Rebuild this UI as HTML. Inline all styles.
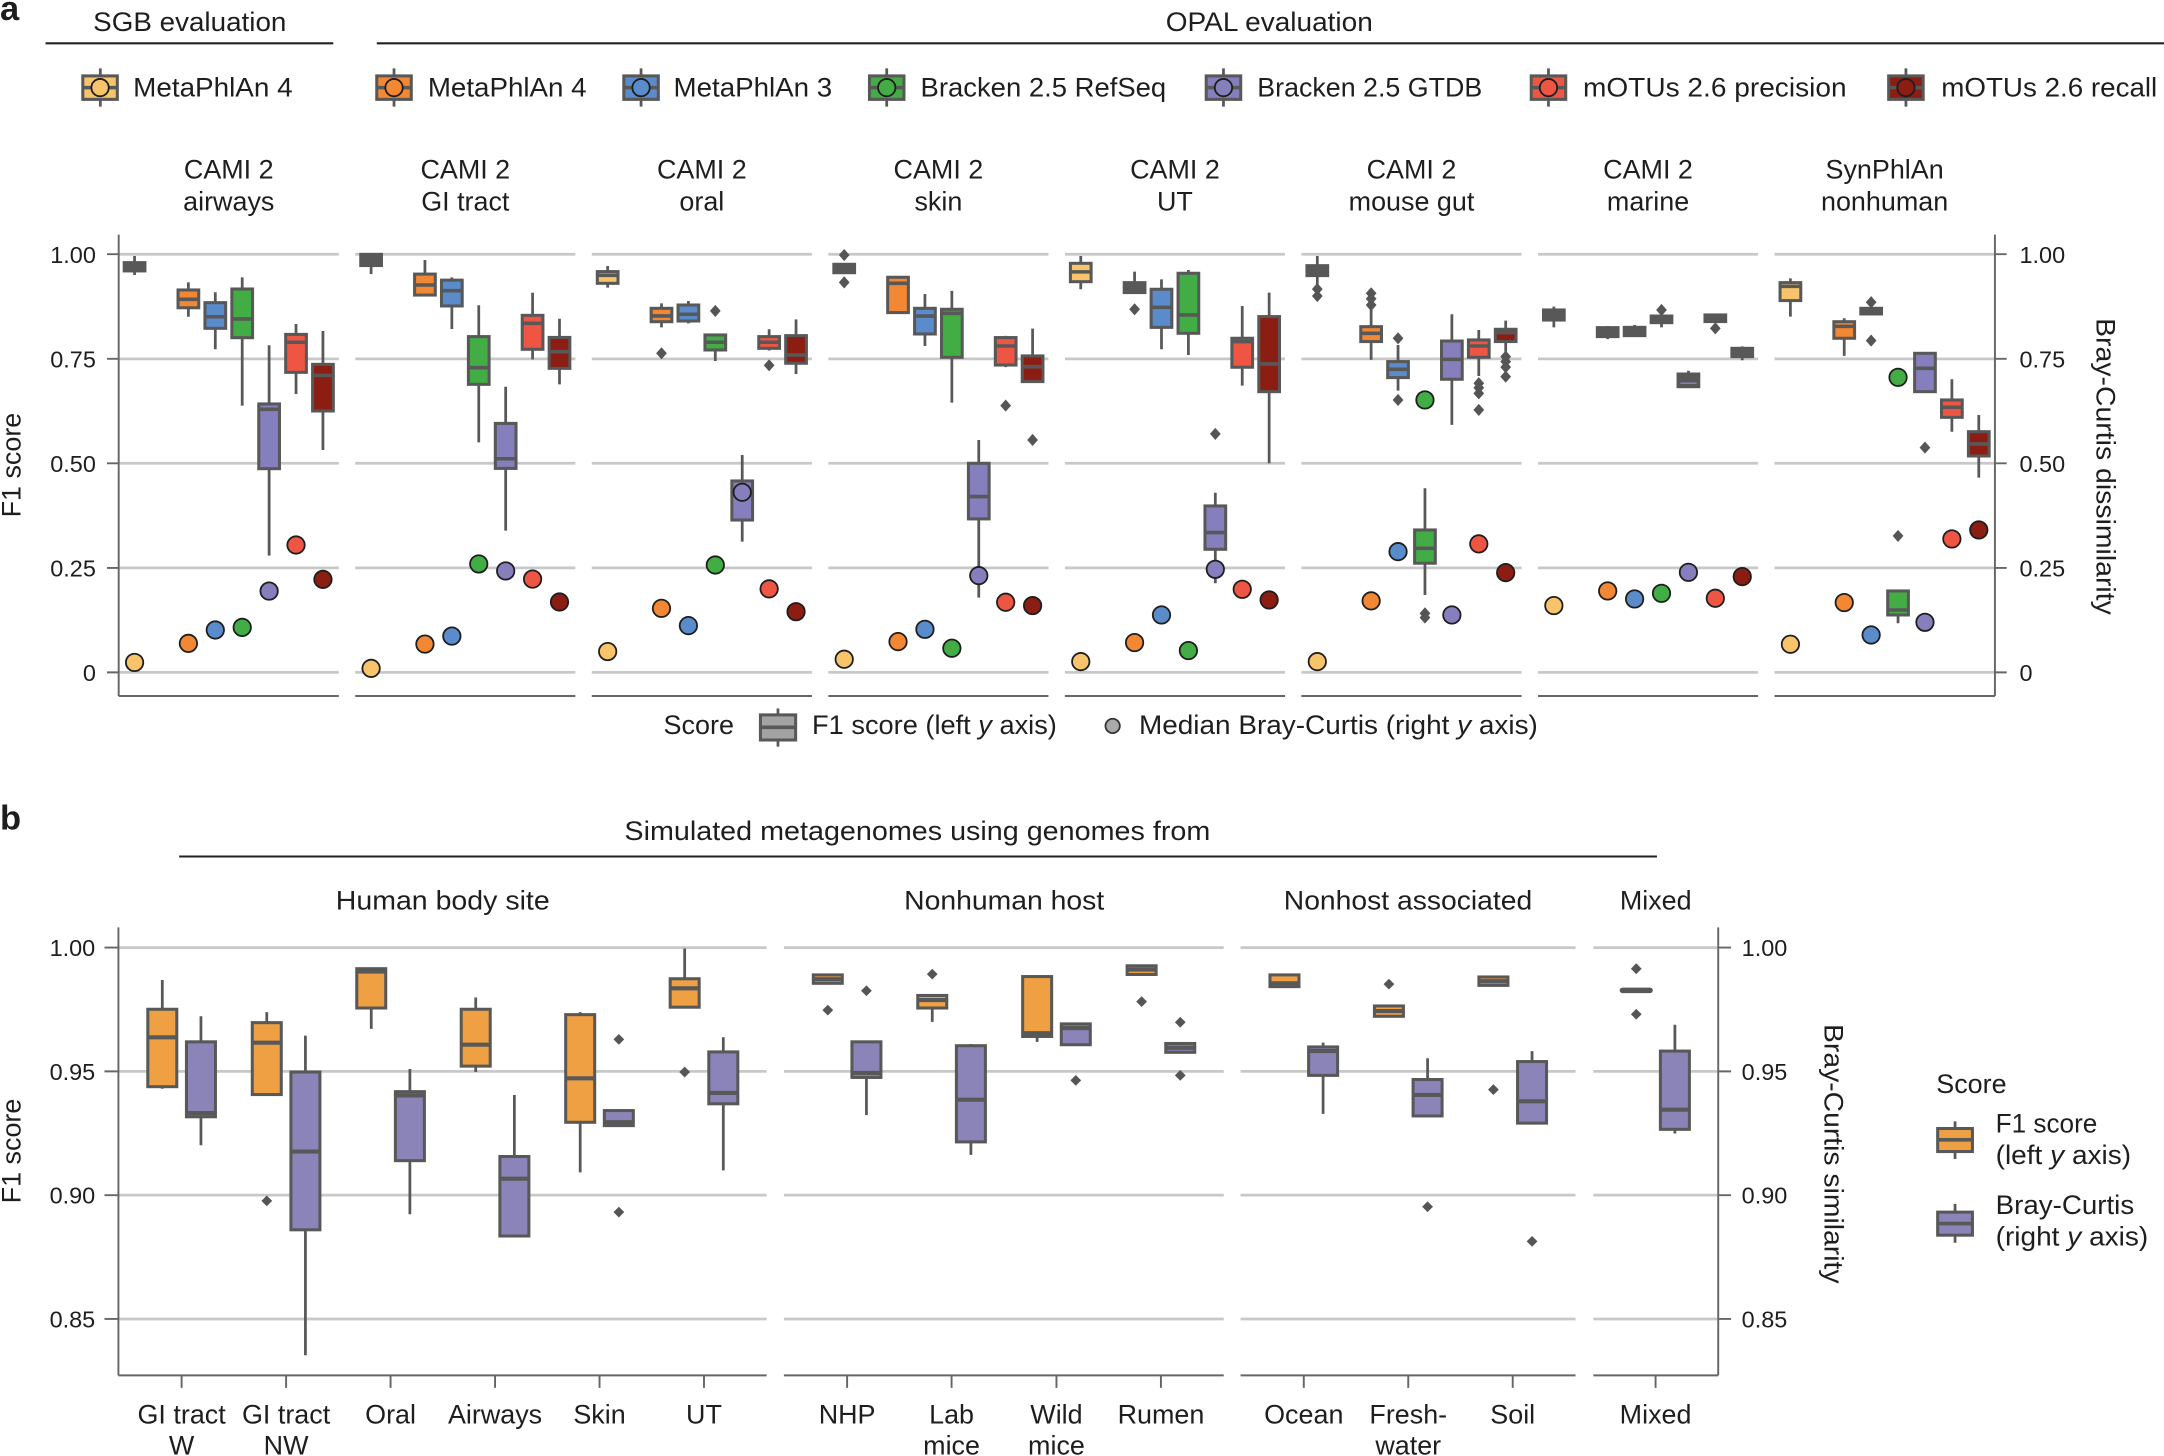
<!DOCTYPE html>
<html><head><meta charset="utf-8"><style>
html,body{margin:0;padding:0;background:#fff}
svg{display:block}
text{font-family:"Liberation Sans",sans-serif;fill:#1e1e1e}
.w{stroke:#585858;stroke-width:2;fill:none}
.s{stroke:#585858;stroke-width:2.2}
.m{stroke:#585858;stroke-width:2.6;fill:none}
.mb{stroke:#585858;stroke-width:3;fill:none}
.g{stroke:#c8c8c8;stroke-width:2;fill:none}
.ax{stroke:#666;stroke-width:1.4;fill:none}
.dt{stroke:#1e1e1e;stroke-width:1.3}
.t{font-size:19.5px}
.k{font-size:17px}
</style></head><body>
<svg width="2164" height="1456" viewBox="0 0 1568 1055" preserveAspectRatio="none" xmlns="http://www.w3.org/2000/svg">
<defs>
<path id="d" d="M0-4.4L3.9 0L0 4.4L-3.9 0Z" fill="#555"/>
<path id="e" d="M0-3.9L3.9 0L0 3.9L-3.9 0Z" fill="#555"/>
</defs>
<rect width="1568" height="1055" fill="#fff"/>

<!-- ===== Panel a header ===== -->
<text x="0" y="14.5" font-size="25" font-weight="bold">a</text>
<text class="t" x="137.5" y="22.5" text-anchor="middle" textLength="140" lengthAdjust="spacingAndGlyphs">SGB evaluation</text>
<text class="t" x="919.7" y="22.5" text-anchor="middle" textLength="150" lengthAdjust="spacingAndGlyphs">OPAL evaluation</text>
<path d="M33 31.4H241.5M273 31.4H1568" stroke="#222" stroke-width="1.5"/>

<!-- legend row -->
<g>
<path class="w" d="M72.7 49.5V77.3M285.5 49.5V77.3M464.5 49.5V77.3M642.5 49.5V77.3M886.5 49.5V77.3M1122 49.5V77.3M1381 49.5V77.3"/>
<rect class="s" x="60" y="55" width="25" height="17" fill="#f8c46b"/>
<rect class="s" x="273" y="55" width="25" height="17" fill="#f28834"/>
<rect class="s" x="452" y="55" width="25" height="17" fill="#5a8bca"/>
<rect class="s" x="630" y="55" width="25" height="17" fill="#41ad44"/>
<rect class="s" x="874" y="55" width="25" height="17" fill="#857fbd"/>
<rect class="s" x="1109.5" y="55" width="25" height="17" fill="#ee5643"/>
<rect class="s" x="1368.5" y="55" width="25" height="17" fill="#8b1d12"/>
<path class="m" d="M60 63.5h25M273 63.5h25M452 63.5h25M630 63.5h25M874 63.5h25M1109.5 63.5h25M1368.5 63.5h25"/>
<circle class="dt" cx="72.5" cy="63.5" r="6.3" fill="#f8c46b"/>
<circle class="dt" cx="285.5" cy="63.5" r="6.3" fill="#f28834"/>
<circle class="dt" cx="464.5" cy="63.5" r="6.3" fill="#5a8bca"/>
<circle class="dt" cx="642.5" cy="63.5" r="6.3" fill="#41ad44"/>
<circle class="dt" cx="886.5" cy="63.5" r="6.3" fill="#857fbd"/>
<circle class="dt" cx="1122" cy="63.5" r="6.3" fill="#ee5643"/>
<circle class="dt" cx="1381" cy="63.5" r="6.3" fill="#8b1d12"/>
<text class="t" x="96.5" y="70" textLength="115.5" lengthAdjust="spacingAndGlyphs">MetaPhlAn 4</text>
<text class="t" x="310" y="70" textLength="115" lengthAdjust="spacingAndGlyphs">MetaPhlAn 4</text>
<text class="t" x="488" y="70" textLength="115" lengthAdjust="spacingAndGlyphs">MetaPhlAn 3</text>
<text class="t" x="667" y="70" textLength="178" lengthAdjust="spacingAndGlyphs">Bracken 2.5 RefSeq</text>
<text class="t" x="911" y="70" textLength="163" lengthAdjust="spacingAndGlyphs">Bracken 2.5 GTDB</text>
<text class="t" x="1147" y="70" textLength="191" lengthAdjust="spacingAndGlyphs">mOTUs 2.6 precision</text>
<text class="t" x="1406.6" y="70" textLength="156.5" lengthAdjust="spacingAndGlyphs">mOTUs 2.6 recall</text>
</g>

<!-- facet titles a -->
<g class="t" text-anchor="middle">
<text class="t" x="165.75" y="129.5">CAMI 2</text><text class="t" x="165.75" y="152.5">airways</text>
<text class="t" x="337.15" y="129.5">CAMI 2</text><text class="t" x="337.15" y="152.5">GI tract</text>
<text class="t" x="508.55" y="129.5">CAMI 2</text><text class="t" x="508.55" y="152.5">oral</text>
<text class="t" x="679.95" y="129.5">CAMI 2</text><text class="t" x="679.95" y="152.5">skin</text>
<text class="t" x="851.35" y="129.5">CAMI 2</text><text class="t" x="851.35" y="152.5">UT</text>
<text class="t" x="1022.75" y="129.5">CAMI 2</text><text class="t" x="1022.75" y="152.5">mouse gut</text>
<text class="t" x="1194.15" y="129.5">CAMI 2</text><text class="t" x="1194.15" y="152.5">marine</text>
<text class="t" x="1365.55" y="129.5">SynPhlAn</text><text class="t" x="1365.55" y="152.5">nonhuman</text>
</g>

<!-- grid a -->
<path class="g" d="M86 184.2H245.5M257.4 184.2H416.9M428.8 184.2H588.3M600.2 184.2H759.7M771.6 184.2H931.1M943 184.2H1102.5M1114.4 184.2H1273.9M1285.8 184.2H1445.3
M86 260H245.5M257.4 260H416.9M428.8 260H588.3M600.2 260H759.7M771.6 260H931.1M943 260H1102.5M1114.4 260H1273.9M1285.8 260H1445.3
M86 335.7H245.5M257.4 335.7H416.9M428.8 335.7H588.3M600.2 335.7H759.7M771.6 335.7H931.1M943 335.7H1102.5M1114.4 335.7H1273.9M1285.8 335.7H1445.3
M86 411.5H245.5M257.4 411.5H416.9M428.8 411.5H588.3M600.2 411.5H759.7M771.6 411.5H931.1M943 411.5H1102.5M1114.4 411.5H1273.9M1285.8 411.5H1445.3
M86 487.2H245.5M257.4 487.2H416.9M428.8 487.2H588.3M600.2 487.2H759.7M771.6 487.2H931.1M943 487.2H1102.5M1114.4 487.2H1273.9M1285.8 487.2H1445.3"/>
<path class="ax" d="M86 504.3H245.5M257.4 504.3H416.9M428.8 504.3H588.3M600.2 504.3H759.7M771.6 504.3H931.1M943 504.3H1102.5M1114.4 504.3H1273.9M1285.8 504.3H1445.5
M86 170V504.3M1445.5 170V504.3
M77.5 184.2H86M77.5 260H86M77.5 335.7H86M77.5 411.5H86M77.5 487.2H86
M1445.5 184.2H1454M1445.5 260H1454M1445.5 335.7H1454M1445.5 411.5H1454M1445.5 487.2H1454"/>

<!-- tick labels a -->
<g class="k">
<text class="k" x="69.5" y="190.4" text-anchor="end">1.00</text>
<text class="k" x="69.5" y="266.2" text-anchor="end">0.75</text>
<text class="k" x="69.5" y="341.9" text-anchor="end">0.50</text>
<text class="k" x="69.5" y="417.7" text-anchor="end">0.25</text>
<text class="k" x="69.5" y="493.4" text-anchor="end">0</text>
<text class="k" x="1463.3" y="190.4">1.00</text>
<text class="k" x="1463.3" y="266.2">0.75</text>
<text class="k" x="1463.3" y="341.9">0.50</text>
<text class="k" x="1463.3" y="417.7">0.25</text>
<text class="k" x="1463.3" y="493.4">0</text>
</g>
<text class="t" transform="translate(15,337) rotate(-90)" text-anchor="middle">F1 score</text>
<text class="t" transform="translate(1519,338) rotate(90)" text-anchor="middle" textLength="215" lengthAdjust="spacingAndGlyphs">Bray-Curtis dissimilarity</text>

<!-- ===== boxes panel a ===== -->
<path class="w" d="
M97.5 185.5V190.3M97.5 196.3V199.3
M136.5 204.6V210.1M136.5 223V229.5
M156 211.8V219.3M156 237.9V253.1
M175.5 201V209.4M175.5 244.7V293.9
M195 250.2V292.7M195 339.6V402.6
M214.5 234.8V242.3M214.5 269.8V285.5
M234 239.8V264M234 297.8V326.1
M268.9 192.4V198.6
M307.9 188.4V198.6
M327.4 201V203M327.4 221.7V238.4
M346.9 221.2V243.9M346.9 278.5V320.5
M366.4 280.2V306.8M366.4 339.4V384.5
M385.9 212.1V228.5M385.9 253.1V260.4
M405.4 231V244.5M405.4 266.9V278.5
M440.3 192.7V196.8M440.3 205.3V208.4
M479.3 219.8V223.4M479.3 233.1V237.2
M498.8 218.1V221M498.8 232.6V234.3
M518.3 253.6V261.6
M537.8 329.7V348.5M537.8 376.8V392.5
M557.3 238.6V243.9M557.3 252.4V254
M576.8 231.4V243.2M576.8 263.2V271
M670.2 213V223.4M670.2 242V250.7
M689.7 210.8V224.1M689.7 258.9V291.7
M709.2 318.8V335.7M709.2 376V433
M728.7 243.4V244.6M728.7 264.5V266
M748.2 238.1V257.9M748.2 276.5V277.5
M783.1 185.5V190.8M783.1 204.1V209.6
M822.1 196.8V204.8
M841.6 202.4V209.6M841.6 237.2V253.1
M861.1 195.6V198M861.1 241.5V257.2
M880.6 357V366.6M880.6 398V422.6
M900.1 221.7V245.1M900.1 266.1V279.4
M919.6 212V229.4M919.6 283.8V335.7
M954.5 185.5V192.5M954.5 199.7V206.5
M993.5 221V236.7M993.5 247.5V260.8
M1013 250V262M1013 273.6V283
M1032.5 353.8V384M1032.5 408.1V431.1
M1052 227.7V247.1M1052 274.8V307.9
M1071.5 239.1V246.3M1071.5 258.9V272.4
M1091 232.3V238.6M1091 247.5V254.8
M1125.9 222.2V224.6M1125.9 231.9V237.2
M1164.9 236.2V237.4M1164.9 243.9V245.7
M1184.4 235.5V237.2M1184.4 243.2V244
M1203.9 233.8V237.2
M1223.4 268.6V271
M1262.4 251V252.4M1262.4 258.4V261
M1297.3 201.7V204.8M1297.3 217.8V229.4
M1336.3 230.6V233.1M1336.3 245.1V257.9
M1375.3 445.6V451.6
M1414.3 274.8V289.8M1414.3 302.4V312.8
M1433.8 300.7V312.8M1433.8 330.4V346.1"/>

<g class="s">
<rect x="90" y="190.3" width="15" height="6" fill="#585858"/>
<rect x="129" y="210.1" width="15" height="12.9" fill="#f28834"/>
<rect x="148.5" y="219.3" width="15" height="18.6" fill="#5a8bca"/>
<rect x="168" y="209.4" width="15" height="35.3" fill="#41ad44"/>
<rect x="187.5" y="292.7" width="15" height="46.9" fill="#857fbd"/>
<rect x="207" y="242.3" width="15" height="27.5" fill="#ee5643"/>
<rect x="226.5" y="264" width="15" height="33.8" fill="#8b1d12"/>

<rect x="261.4" y="184.3" width="15" height="8.1" fill="#585858"/>
<rect x="300.4" y="198.6" width="15" height="15.2" fill="#f28834"/>
<rect x="319.9" y="203" width="15" height="18.7" fill="#5a8bca"/>
<rect x="339.4" y="243.9" width="15" height="34.6" fill="#41ad44"/>
<rect x="358.9" y="306.8" width="15" height="32.6" fill="#857fbd"/>
<rect x="378.4" y="228.5" width="15" height="24.6" fill="#ee5643"/>
<rect x="397.9" y="244.5" width="15" height="22.4" fill="#8b1d12"/>

<rect x="432.8" y="196.8" width="15" height="8.5" fill="#f8c46b"/>
<rect x="471.8" y="223.4" width="15" height="9.7" fill="#f28834"/>
<rect x="491.3" y="221" width="15" height="11.6" fill="#5a8bca"/>
<rect x="510.8" y="242.7" width="15" height="10.9" fill="#41ad44"/>
<rect x="530.3" y="348.5" width="15" height="28.3" fill="#857fbd"/>
<rect x="549.8" y="243.9" width="15" height="8.5" fill="#ee5643"/>
<rect x="569.3" y="243.2" width="15" height="20" fill="#8b1d12"/>

<rect x="604.2" y="191.5" width="15" height="6.1" fill="#585858"/>
<rect x="643.2" y="200.9" width="15" height="25.6" fill="#f28834"/>
<rect x="662.7" y="223.4" width="15" height="18.6" fill="#5a8bca"/>
<rect x="682.2" y="224.1" width="15" height="34.8" fill="#41ad44"/>
<rect x="701.7" y="335.7" width="15" height="40.3" fill="#857fbd"/>
<rect x="721.2" y="244.6" width="15" height="19.9" fill="#ee5643"/>
<rect x="740.7" y="257.9" width="15" height="18.6" fill="#8b1d12"/>

<rect x="775.6" y="190.8" width="15" height="13.3" fill="#f8c46b"/>
<rect x="814.6" y="204.8" width="15" height="7.2" fill="#585858"/>
<rect x="834.1" y="209.6" width="15" height="27.6" fill="#5a8bca"/>
<rect x="853.6" y="198" width="15" height="43.5" fill="#41ad44"/>
<rect x="873.1" y="366.6" width="15" height="31.4" fill="#857fbd"/>
<rect x="892.6" y="245.1" width="15" height="21" fill="#ee5643"/>
<rect x="912.1" y="229.4" width="15" height="54.4" fill="#8b1d12"/>

<rect x="947" y="192.5" width="15" height="7.2" fill="#585858"/>
<rect x="986" y="236.7" width="15" height="10.8" fill="#f28834"/>
<rect x="1005.5" y="262" width="15" height="11.6" fill="#5a8bca"/>
<rect x="1025" y="384" width="15" height="24.1" fill="#41ad44"/>
<rect x="1044.5" y="247.1" width="15" height="27.7" fill="#857fbd"/>
<rect x="1064" y="246.3" width="15" height="12.6" fill="#ee5643"/>
<rect x="1083.5" y="238.6" width="15" height="8.9" fill="#8b1d12"/>

<rect x="1118.4" y="224.6" width="15" height="7.3" fill="#585858"/>
<rect x="1157.4" y="237.4" width="15" height="6.5" fill="#585858"/>
<rect x="1176.9" y="237.2" width="15" height="6" fill="#585858"/>
<rect x="1196.4" y="229" width="15" height="4.8" fill="#585858"/>
<rect x="1215.9" y="271" width="15" height="9.2" fill="#585858"/>
<rect x="1235.4" y="228.2" width="15" height="4.8" fill="#585858"/>
<rect x="1254.9" y="252.4" width="15" height="6" fill="#585858"/>

<rect x="1289.8" y="204.8" width="15" height="13" fill="#f8c46b"/>
<rect x="1328.8" y="233.1" width="15" height="12" fill="#f28834"/>
<rect x="1348.3" y="223.4" width="15" height="4.1" fill="#585858"/>
<rect x="1367.8" y="428.2" width="15" height="17.4" fill="#41ad44"/>
<rect x="1387.3" y="256" width="15" height="27.8" fill="#857fbd"/>
<rect x="1406.8" y="289.8" width="15" height="12.6" fill="#ee5643"/>
<rect x="1426.3" y="312.8" width="15" height="17.6" fill="#8b1d12"/>
</g>

<path class="m" d="
M90 193h15M129 216.9h15M148.5 229.5h15M168 231.1h15M187.5 296.6h15M207 248h15M226.5 272h15
M261.4 188.5h15M300.4 206.5h15M319.9 210.6h15M339.4 266.4h15M358.9 332.4h15M378.4 234.3h15M397.9 254.8h15
M432.8 199.5h15M471.8 228.9h15M491.3 227.7h15M510.8 248h15M530.3 356h15M549.8 248h15M569.3 257.2h15
M604.2 194.4h15M643.2 205.3h15M662.7 229h15M682.2 227h15M701.7 359.8h15M721.2 250.7h15M740.7 265.7h15
M775.6 197h15M814.6 208.4h15M834.1 222.7h15M853.6 228.2h15M873.1 385.9h15M892.6 247.5h15M912.1 263.7h15
M947 195.6h15M986 241.5h15M1005.5 267.6h15M1025 397.3h15M1044.5 260.4h15M1064 250.7h15M1083.5 241h15
M1289.8 207.5h15M1328.8 236.5h15M1348.3 225.1h15M1367.8 442h15M1387.3 266.9h15M1406.8 295.1h15M1426.3 321.7h15"/>
<path d="M1217.5 277.7h11.8" stroke="#857fbd" stroke-width="1"/>

<g>
<use href="#d" x="479.3" y="256"/><use href="#d" x="518.3" y="225.3"/><use href="#d" x="557.3" y="264.7"/>
<use href="#d" x="611.7" y="184.8"/><use href="#d" x="611.7" y="204.6"/><use href="#d" x="728.7" y="293.9"/><use href="#d" x="748.2" y="318.8"/>
<use href="#d" x="822.1" y="224.1"/><use href="#d" x="880.6" y="314.4"/>
<use href="#d" x="954.5" y="209.5"/><use href="#d" x="954.5" y="214.5"/>
<use href="#d" x="993.5" y="212.5"/><use href="#d" x="993.5" y="216.5"/><use href="#d" x="993.5" y="221"/>
<use href="#d" x="1013" y="245.1"/><use href="#d" x="1013" y="289.8"/>
<use href="#d" x="1032.5" y="444.4"/><use href="#d" x="1032.5" y="447.5"/>
<use href="#d" x="1071.5" y="277.7"/><use href="#d" x="1071.5" y="281"/><use href="#d" x="1071.5" y="285"/><use href="#d" x="1071.5" y="297"/>
<use href="#d" x="1091" y="258.4"/><use href="#d" x="1091" y="262"/><use href="#d" x="1091" y="266"/><use href="#d" x="1091" y="272.9"/>
<use href="#d" x="1203.9" y="224.6"/><use href="#d" x="1242.9" y="237.9"/>
<use href="#d" x="1355.8" y="219"/><use href="#d" x="1355.8" y="246.8"/><use href="#d" x="1375.3" y="388.3"/><use href="#d" x="1394.8" y="324.3"/>
</g>

<g class="dt">
<circle cx="97.5" cy="480" r="6.3" fill="#f8c46b"/><circle cx="136.5" cy="466.2" r="6.3" fill="#f28834"/><circle cx="156" cy="456.5" r="6.3" fill="#5a8bca"/><circle cx="175.5" cy="454.6" r="6.3" fill="#41ad44"/><circle cx="195" cy="428.3" r="6.3" fill="#857fbd"/><circle cx="214.5" cy="394.9" r="6.3" fill="#ee5643"/><circle cx="234" cy="419.8" r="6.3" fill="#8b1d12"/>
<circle cx="268.9" cy="484.3" r="6.3" fill="#f8c46b"/><circle cx="307.9" cy="466.7" r="6.3" fill="#f28834"/><circle cx="327.4" cy="460.9" r="6.3" fill="#5a8bca"/><circle cx="346.9" cy="408.6" r="6.3" fill="#41ad44"/><circle cx="366.4" cy="413.7" r="6.3" fill="#857fbd"/><circle cx="385.9" cy="419.6" r="6.3" fill="#ee5643"/><circle cx="405.4" cy="436.2" r="6.3" fill="#8b1d12"/>
<circle cx="440.3" cy="472.1" r="6.3" fill="#f8c46b"/><circle cx="479.3" cy="440.8" r="6.3" fill="#f28834"/><circle cx="498.8" cy="453.3" r="6.3" fill="#5a8bca"/><circle cx="518.3" cy="409.4" r="6.3" fill="#41ad44"/><circle cx="537.8" cy="356.7" r="6.3" fill="#857fbd"/><circle cx="557.3" cy="426.7" r="6.3" fill="#ee5643"/><circle cx="576.8" cy="443.2" r="6.3" fill="#8b1d12"/>
<circle cx="611.7" cy="477.7" r="6.3" fill="#f8c46b"/><circle cx="650.7" cy="464.9" r="6.3" fill="#f28834"/><circle cx="670.2" cy="456" r="6.3" fill="#5a8bca"/><circle cx="689.7" cy="469.7" r="6.3" fill="#41ad44"/><circle cx="709.2" cy="417.1" r="6.3" fill="#857fbd"/><circle cx="728.7" cy="436.4" r="6.3" fill="#ee5643"/><circle cx="748.2" cy="438.8" r="6.3" fill="#8b1d12"/>
<circle cx="783.1" cy="479.4" r="6.3" fill="#f8c46b"/><circle cx="822.1" cy="465.6" r="6.3" fill="#f28834"/><circle cx="841.6" cy="445.6" r="6.3" fill="#5a8bca"/><circle cx="861.1" cy="471.4" r="6.3" fill="#41ad44"/><circle cx="880.6" cy="412.5" r="6.3" fill="#857fbd"/><circle cx="900.1" cy="427" r="6.3" fill="#ee5643"/><circle cx="919.6" cy="434.7" r="6.3" fill="#8b1d12"/>
<circle cx="954.5" cy="479.4" r="6.3" fill="#f8c46b"/><circle cx="993.5" cy="435.4" r="6.3" fill="#f28834"/><circle cx="1013" cy="399.7" r="6.3" fill="#5a8bca"/><circle cx="1032.5" cy="289.8" r="6.3" fill="#41ad44"/><circle cx="1052" cy="445.6" r="6.3" fill="#857fbd"/><circle cx="1071.5" cy="394.1" r="6.3" fill="#ee5643"/><circle cx="1091" cy="414.9" r="6.3" fill="#8b1d12"/>
<circle cx="1125.9" cy="438.8" r="6.3" fill="#f8c46b"/><circle cx="1164.9" cy="428.2" r="6.3" fill="#f28834"/><circle cx="1184.4" cy="434" r="6.3" fill="#5a8bca"/><circle cx="1203.9" cy="429.9" r="6.3" fill="#41ad44"/><circle cx="1223.4" cy="414.7" r="6.3" fill="#857fbd"/><circle cx="1242.9" cy="433.5" r="6.3" fill="#ee5643"/><circle cx="1262.4" cy="417.8" r="6.3" fill="#8b1d12"/>
<circle cx="1297.3" cy="466.8" r="6.3" fill="#f8c46b"/><circle cx="1336.3" cy="436.6" r="6.3" fill="#f28834"/><circle cx="1355.8" cy="460.1" r="6.3" fill="#5a8bca"/><circle cx="1375.3" cy="273.4" r="6.3" fill="#41ad44"/><circle cx="1394.8" cy="450.9" r="6.3" fill="#857fbd"/><circle cx="1414.3" cy="390.5" r="6.3" fill="#ee5643"/><circle cx="1433.8" cy="384" r="6.3" fill="#8b1d12"/>
</g>

<!-- bottom legend a -->
<text class="t" x="480.8" y="532" textLength="51" lengthAdjust="spacingAndGlyphs">Score</text>
<path class="w" d="M563.7 513.3V541"/>
<rect class="s" x="551" y="518" width="25.5" height="18.2" fill="#a3a3a3"/>
<path class="m" d="M551 527h25.5"/>
<text class="t" x="588.4" y="532" textLength="177.4" lengthAdjust="spacingAndGlyphs">F1 score (left <tspan font-style="italic">y</tspan> axis)</text>
<circle cx="806.2" cy="526" r="5.2" fill="#a9a9a9" stroke="#333" stroke-width="1.3"/>
<text class="t" x="825.3" y="532" textLength="289" lengthAdjust="spacingAndGlyphs">Median Bray-Curtis (right <tspan font-style="italic">y</tspan> axis)</text>

<!-- ===== Panel b ===== -->
<text x="0" y="601" font-size="25" font-weight="bold">b</text>
<text class="t" x="664.7" y="608.5" text-anchor="middle" textLength="424.5" lengthAdjust="spacingAndGlyphs">Simulated metagenomes using genomes from</text>
<path d="M129.8 620.6H1200.6" stroke="#222" stroke-width="1.5"/>
<text class="t" x="320.8" y="659.1" text-anchor="middle" textLength="155" lengthAdjust="spacingAndGlyphs">Human body site</text>
<text class="t" x="727.6" y="659.1" text-anchor="middle" textLength="145" lengthAdjust="spacingAndGlyphs">Nonhuman host</text>
<text class="t" x="1020.2" y="659.1" text-anchor="middle" textLength="180" lengthAdjust="spacingAndGlyphs">Nonhost associated</text>
<text class="t" x="1199.7" y="659.1" text-anchor="middle">Mixed</text>

<path class="g" d="M85.8 686.6H555.5M568 686.6H886.7M898.9 686.6H1141.6M1154.5 686.6H1245
M85.8 776.3H555.5M568 776.3H886.7M898.9 776.3H1141.6M1154.5 776.3H1245
M85.8 866H555.5M568 866H886.7M898.9 866H1141.6M1154.5 866H1245
M85.8 955.7H555.5M568 955.7H886.7M898.9 955.7H1141.6M1154.5 955.7H1245"/>
<path class="ax" d="M85.8 996.6H555.5M568 996.6H886.7M898.9 996.6H1141.6M1154.5 996.6H1245
M85.8 672V996.6M1245 672V996.6
M75.7 686.6H85.8M75.7 776.3H85.8M75.7 866H85.8M75.7 955.7H85.8
M1245 686.6H1254.3M1245 776.3H1254.3M1245 866H1254.3M1245 955.7H1254.3
M131.6 996.6V1005.6M207.3 996.6V1005.6M283 996.6V1005.6M358.7 996.6V1005.6M434.4 996.6V1005.6M510.1 996.6V1005.6
M613.8 996.6V1005.6M689.5 996.6V1005.6M765.5 996.6V1005.6M841.2 996.6V1005.6
M944.7 996.6V1005.6M1020.4 996.6V1005.6M1096.1 996.6V1005.6M1199.6 996.6V1005.6"/>

<text class="k" x="69" y="692.8" text-anchor="end">1.00</text>
<text class="k" x="69" y="782.5" text-anchor="end">0.95</text>
<text class="k" x="69" y="872.2" text-anchor="end">0.90</text>
<text class="k" x="69" y="961.9" text-anchor="end">0.85</text>
<text class="k" x="1262" y="692.8">1.00</text>
<text class="k" x="1262" y="782.5">0.95</text>
<text class="k" x="1262" y="872.2">0.90</text>
<text class="k" x="1262" y="961.9">0.85</text>
<text class="t" transform="translate(15,834) rotate(-90)" text-anchor="middle">F1 score</text>
<text class="t" transform="translate(1322,836) rotate(90)" text-anchor="middle" textLength="188" lengthAdjust="spacingAndGlyphs">Bray-Curtis similarity</text>

<g text-anchor="middle">
<text class="t" x="131.6" y="1031.3">GI tract</text><text class="t" x="131.6" y="1054">W</text>
<text class="t" x="207.3" y="1031.3">GI tract</text><text class="t" x="207.3" y="1054">NW</text>
<text class="t" x="283" y="1031.3">Oral</text>
<text class="t" x="358.7" y="1031.3">Airways</text>
<text class="t" x="434.4" y="1031.3">Skin</text>
<text class="t" x="510.1" y="1031.3">UT</text>
<text class="t" x="613.8" y="1031.3">NHP</text>
<text class="t" x="689.5" y="1031.3">Lab</text><text class="t" x="689.5" y="1054">mice</text>
<text class="t" x="765.5" y="1031.3">Wild</text><text class="t" x="765.5" y="1054">mice</text>
<text class="t" x="841.2" y="1031.3">Rumen</text>
<text class="t" x="944.7" y="1031.3">Ocean</text>
<text class="t" x="1020.4" y="1031.3">Fresh-</text><text class="t" x="1020.4" y="1054">water</text>
<text class="t" x="1096.1" y="1031.3">Soil</text>
<text class="t" x="1199.6" y="1031.3">Mixed</text>
</g>

<path class="w" d="
M117.6 710.1V731.3M117.6 787.4V788.9
M145.6 736.4V754.9M145.6 809.2V829.8
M193.3 733.4V741
M221.3 750.4V776.8M221.3 891.1V982
M269 730.4V745.5
M297 774.6V791M297 841V879.8
M344.7 722.8V731.3M344.7 772.5V776.8
M372.7 793.4V838
M420.4 733.4V735.2M420.4 813.2V849.5
M496.1 687.3V709.2
M524.1 751.6V762.2M524.1 799.8V848
M627.8 780.7V808
M675.5 730.4V740.4
M703.5 756.5V757.7M703.5 827.4V836.8
M751.5 751V754.9
M779.5 741V741.9
M958.7 755.5V758.6M958.7 779.2V807.1
M1034.4 766.8V782.2
M1110.1 761.6V769.2
M1213.6 742.5V761.6M1213.6 818.3V821.3"/>
<g class="s">
<rect x="107.1" y="731.3" width="21" height="56.1" fill="#eea043"/>
<rect x="135.1" y="754.9" width="21" height="54.3" fill="#8a84b9"/>
<rect x="182.8" y="741" width="21" height="52.1" fill="#eea043"/>
<rect x="210.8" y="776.8" width="21" height="114.3" fill="#8a84b9"/>
<rect x="258.5" y="701.9" width="21" height="28.5" fill="#eea043"/>
<rect x="286.5" y="791" width="21" height="50" fill="#8a84b9"/>
<rect x="334.2" y="731.3" width="21" height="41.2" fill="#eea043"/>
<rect x="362.2" y="838" width="21" height="57.6" fill="#8a84b9"/>
<rect x="409.9" y="735.2" width="21" height="78" fill="#eea043"/>
<rect x="437.9" y="804.7" width="21" height="10.9" fill="#8a84b9"/>
<rect x="485.6" y="709.2" width="21" height="20.6" fill="#eea043"/>
<rect x="513.6" y="762.2" width="21" height="37.6" fill="#8a84b9"/>
<rect x="589.3" y="706.4" width="21" height="6.1" fill="#eea043"/>
<rect x="617.3" y="754.9" width="21" height="25.8" fill="#8a84b9"/>
<rect x="665" y="721.3" width="21" height="9.1" fill="#eea043"/>
<rect x="693" y="757.7" width="21" height="69.7" fill="#8a84b9"/>
<rect x="741" y="707.6" width="21" height="43.4" fill="#eea043"/>
<rect x="769" y="741.9" width="21" height="15.1" fill="#8a84b9"/>
<rect x="816.7" y="699.8" width="21" height="6.3" fill="#eea043"/>
<rect x="844.7" y="756.1" width="21" height="6.4" fill="#8a84b9"/>
<rect x="920.2" y="706.4" width="21" height="8.5" fill="#eea043"/>
<rect x="948.2" y="758.6" width="21" height="20.6" fill="#8a84b9"/>
<rect x="995.9" y="728.9" width="21" height="7.5" fill="#eea043"/>
<rect x="1023.9" y="782.2" width="21" height="26.4" fill="#8a84b9"/>
<rect x="1071.6" y="707.9" width="21" height="6.1" fill="#eea043"/>
<rect x="1099.6" y="769.2" width="21" height="44.6" fill="#8a84b9"/>
<rect x="1203.1" y="761.6" width="21" height="56.7" fill="#8a84b9"/>
</g>
<path class="mb" d="
M107.1 751.6h21M135.1 806.5h21M182.8 755.5h21M210.8 834.4h21M258.5 704h21M286.5 793.7h21
M334.2 757h21M362.2 854.1h21M409.9 781.3h21M437.9 813.1h21M485.6 716.1h21M513.6 791.9h21
M589.3 709.5h21M617.3 777.4h21M665 724.6h21M693 796.8h21M741 748.6h21M769 744.9h21
M816.7 702.5h21M844.7 759.2h21M920.2 712.5h21M948.2 761.6h21M995.9 732.6h21M1023.9 793.4h21
M1071.6 711h21M1099.6 798h21M1203.1 804.1h21"/>
<path d="M1175.6 717.6h20" stroke="#585858" stroke-width="4" stroke-linecap="round"/>
<g>
<use href="#e" x="193.3" y="870.1"/><use href="#e" x="448.4" y="753.1"/><use href="#e" x="448.4" y="878.3"/><use href="#e" x="496.1" y="776.8"/>
<use href="#e" x="599.8" y="731.9"/><use href="#e" x="627.8" y="717.9"/><use href="#e" x="675.5" y="705.8"/><use href="#e" x="779.5" y="782.8"/>
<use href="#e" x="827.2" y="725.8"/><use href="#e" x="855.2" y="740.7"/><use href="#e" x="855.2" y="779.2"/>
<use href="#e" x="1006.4" y="713.1"/><use href="#e" x="1034.4" y="874.4"/><use href="#e" x="1082.1" y="789.5"/><use href="#e" x="1110.1" y="899.5"/>
<use href="#e" x="1185.6" y="701.9"/><use href="#e" x="1185.6" y="734.9"/>
</g>

<text class="t" x="1403" y="792">Score</text>
<path class="w" d="M1416.6 812.5V839.8M1416.6 872.3V900.5"/>
<rect class="s" x="1404" y="817.7" width="25.2" height="16.7" fill="#eea043"/>
<rect class="s" x="1404" y="878.3" width="25.2" height="16.7" fill="#8a84b9"/>
<path class="m" d="M1404 825.9h25.2M1404 886.6h25.2"/>
<text class="t" x="1446" y="820.7" textLength="73.7" lengthAdjust="spacingAndGlyphs">F1 score</text>
<text class="t" x="1446" y="843.5" textLength="98.2" lengthAdjust="spacingAndGlyphs">(left <tspan font-style="italic">y</tspan> axis)</text>
<text class="t" x="1446" y="879.8" textLength="100.4" lengthAdjust="spacingAndGlyphs">Bray-Curtis</text>
<text class="t" x="1446" y="902.6" textLength="110.6" lengthAdjust="spacingAndGlyphs">(right <tspan font-style="italic">y</tspan> axis)</text>
</svg>
</body></html>
